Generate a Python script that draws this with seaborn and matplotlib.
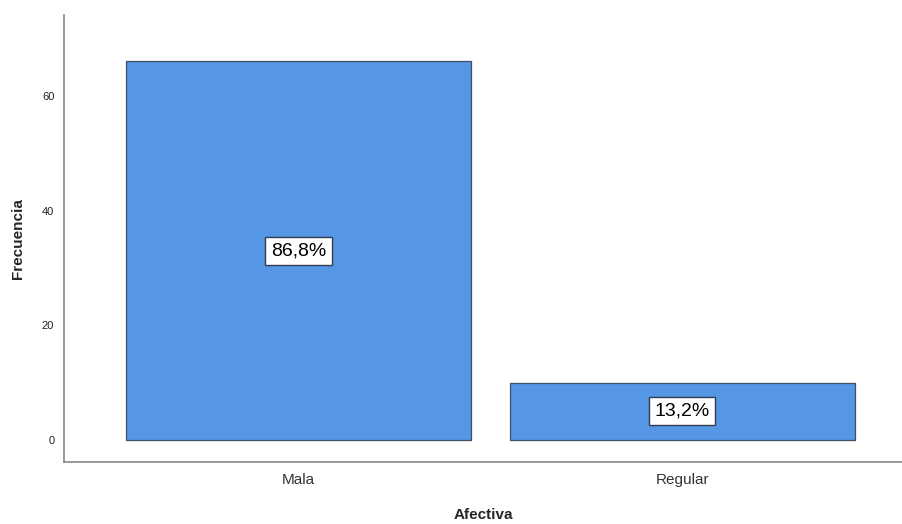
import matplotlib
matplotlib.use("Agg")
import matplotlib.pyplot as plt
import seaborn as sns
import pandas as pd

categories = ["Mala", "Regular"]
frecuencia = [66, 10]
porcentajes = ["86,8%", "13,2%"]

sns.set_style("white")
plt.rcParams['font.family'] = ['Liberation Sans', 'DejaVu Sans']

df = pd.DataFrame({"Afectiva": categories, "Frecuencia": frecuencia})

fig = plt.figure(figsize=(9.02, 5.24), dpi=100)
ax = fig.add_axes([64/902, 1 - 462/524, 1 - 64/902, (462 - 15)/524])

sns.barplot(data=df, x="Afectiva", y="Frecuencia", ax=ax, color="#5596E5",
            saturation=1, width=0.898, edgecolor="#3F4F63", linewidth=0.9)

for i, (v, p) in enumerate(zip(frecuencia, porcentajes)):
    ax.text(i, v / 2, p, ha="center", va="center", fontsize=14, color="black",
            bbox=dict(boxstyle="square,pad=0.28", facecolor="white",
                      edgecolor="#333F4F", linewidth=1))

ax.set_xlim(-0.611, 1.572)
ax.set_ylim(-3.84, 74.1)
ax.set_yticks([0, 20, 40, 60])
ax.tick_params(axis="y", length=0, pad=7, labelsize=8, labelcolor="#222222")
ax.tick_params(axis="x", length=0, pad=8, labelsize=11, labelcolor="#333333")

for s in ["top", "right"]:
    ax.spines[s].set_visible(False)
for s in ["left", "bottom"]:
    ax.spines[s].set_color("#888888")
    ax.spines[s].set_linewidth(1.2)

ax.set_xlabel("Afectiva", fontsize=11, fontweight="bold", labelpad=15)
ax.set_ylabel("Frecuencia", fontsize=11, fontweight="bold", labelpad=12)

fig.savefig("out.png", dpi=100)
